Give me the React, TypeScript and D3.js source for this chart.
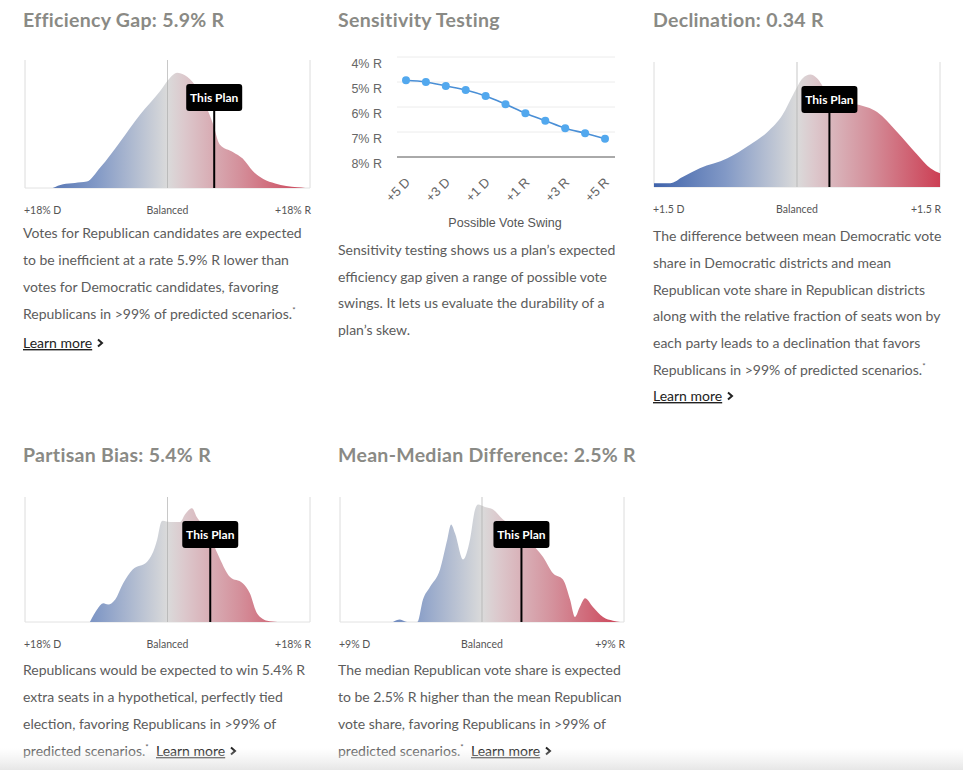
import React from 'react';
import * as d3 from 'd3';

// ---- efficiency gap distribution (% R, relative density)
const effGapX = [-14.5, -13.2, -11.7, -10.2, -8.5, -6.0, -3.5, -0.9, 0.3, 1.2, 2.2, 3.5, 4.7, 5.7, 6.6, 8.3, 9.5, 10.8, 12.1, 13.6, 16.4, 17.4];
const effGapY = [0, 0.03, 0.04, 0.05, 0.16, 0.36, 0.57, 0.76, 0.86, 0.90, 0.88, 0.80, 0.66, 0.51, 0.34, 0.28, 0.23, 0.13, 0.07, 0.035, 0.005, 0];

// ---- declination distribution
const declX = [-1.5, -1.33, -1.2, -1.02, -0.73, -0.49, -0.31, -0.15, -0.04, 0.06, 0.14, 0.21, 0.31, 0.45, 0.63, 0.84, 1.05, 1.26, 1.4, 1.5];
const declY = [0.03, 0.03, 0.08, 0.15, 0.23, 0.34, 0.44, 0.58, 0.74, 0.87, 0.90, 0.87, 0.76, 0.68, 0.66, 0.60, 0.44, 0.26, 0.15, 0.11];

// ---- partisan bias distribution
const biasX = [-9.8, -8.9, -8.1, -7.5, -6.6, -5.6, -4.4, -2.6, -1.3, -0.8, -0.6, 0.3, 1.6, 2.2, 3.1, 3.7, 5.0, 6.3, 7.9, 9.5, 10.4, 11.3, 12.6, 13.9];
const biasY = [0, 0.10, 0.15, 0.14, 0.18, 0.31, 0.42, 0.48, 0.66, 0.80, 0.81, 0.80, 0.80, 0.86, 0.91, 0.84, 0.74, 0.55, 0.36, 0.31, 0.23, 0.07, 0.01, 0];

// ---- mean-median distribution
const mmX = [-5.64, -5.2, -4.75, -4.1, -3.74, -3.3, -2.66, -2.2, -1.96, -1.71, -1.2, -0.76, -0.44, -0.25, 0.19, 0.7, 1.33, 2.09, 3.04, 3.87, 4.5, 5.13, 5.58, 5.89, 6.2, 6.53, 7.03, 7.67, 8.3, 8.75];
const mmY = [0, 0.02, 0, 0, 0.18, 0.28, 0.42, 0.66, 0.78, 0.71, 0.50, 0.66, 0.90, 0.94, 0.92, 0.90, 0.82, 0.76, 0.64, 0.52, 0.39, 0.34, 0.18, 0.04, 0.12, 0.19, 0.12, 0.04, 0.01, 0];

// ---- sensitivity testing
const swingX = [-5, -4, -3, -2, -1, 0, 1, 2, 3, 4, 5];
const swingGap = [4.93, 5.0, 5.16, 5.32, 5.56, 5.89, 6.25, 6.55, 6.85, 7.05, 7.27];
const swingTickValues = [-5, -3, -1, 1, 3, 5];
const swingTickLabels = ['+5 D', '+3 D', '+1 D', '+1 R', '+3 R', '+5 R'];
const gapTickValues = [4, 5, 6, 7, 8];
const gapTickLabels = ['4% R', '5% R', '6% R', '7% R', '8% R'];

const TITLE_FONT = 'Lato, "Open Sans", sans-serif';
const BODY_FONT = 'Lato, "Open Sans", sans-serif';
const TITLE_COLOR = '#8a8a85';
const BODY_COLOR = '#5c5c5c';

interface DensityProps {
    id: string;
    left: number;
    right: number;
    top: number;
    bottom: number;
    extent: number;
    xs: number[];
    ys: number[];
    plan: number;
    labels: string[];
}

const DensityChart: React.FC<DensityProps> = ({id, left, right, top, bottom, extent, xs, ys, plan, labels}) => {
    const x = d3.scaleLinear().domain([-extent, extent]).range([left, right]);
    const y = d3.scaleLinear().domain([0, 1]).range([bottom, top]);
    const pts = xs.map((v, i) => [v, ys[i]] as [number, number]);
    const area = d3.area<[number, number]>()
        .x(d => x(d[0]))
        .y0(bottom)
        .y1(d => y(d[1]))
        .curve(d3.curveMonotoneX);
    const px = x(plan);
    const boxTop = top + 24;
    return (
        <g>
            <defs>
                <linearGradient id={id} gradientUnits="userSpaceOnUse" x1={left} x2={right} y1={0} y2={0}>
                    <stop offset="0%" stopColor="#3f63ab"/>
                    <stop offset="25%" stopColor="#8299c6"/>
                    <stop offset="50%" stopColor="#dadada"/>
                    <stop offset="56%" stopColor="#dcc8cc"/>
                    <stop offset="75%" stopColor="#d4919c"/>
                    <stop offset="100%" stopColor="#cc3f54"/>
                </linearGradient>
            </defs>
            <line x1={left} x2={left} y1={top} y2={bottom} stroke="#dcdcdc"/>
            <line x1={right} x2={right} y1={top} y2={bottom} stroke="#dcdcdc"/>
            <line x1={left} x2={right} y1={bottom} y2={bottom} stroke="#e2e2e2"/>
            <path d={area(pts) || ''} fill={`url(#${id})`}/>
            <line x1={x(0)} x2={x(0)} y1={top} y2={bottom} stroke="#aaa" strokeWidth={0.8} opacity={0.8}/>
            <line x1={px} x2={px} y1={boxTop} y2={bottom} stroke="#000" strokeWidth={2}/>
            <rect x={px - 28} y={boxTop} width={56} height={27} rx={3} fill="#000"/>
            <text x={px} y={boxTop + 17.5} textAnchor="middle" fill="#fff" fontSize={12} fontWeight={700}
                  fontFamily={BODY_FONT}>This Plan</text>
            <text x={left - 1} y={bottom + 26} fontSize={10.5} fill="#555" fontFamily={BODY_FONT}>{labels[0]}</text>
            <text x={x(0)} y={bottom + 26} fontSize={10.5} fill="#555" textAnchor="middle" fontFamily={BODY_FONT}>{labels[1]}</text>
            <text x={right + 1} y={bottom + 26} fontSize={10.5} fill="#555" textAnchor="end" fontFamily={BODY_FONT}>{labels[2]}</text>
        </g>
    );
};

const SensitivityChart: React.FC = () => {
    const x = d3.scaleLinear().domain([-5, 5]).range([406, 605]);
    const y = d3.scaleLinear().domain([4, 8]).range([57, 157]);
    const line = d3.line<number>()
        .x((_, i) => x(swingX[i]))
        .y(d => y(d))
        .curve(d3.curveMonotoneX);
    const f = '"Liberation Sans", Arial, sans-serif';
    return (
        <g>
            {gapTickValues.map((v, i) => (
                <g key={v}>
                    <line x1={397} x2={615} y1={y(v)} y2={y(v)}
                          stroke={v === 8 ? '#555' : '#ececec'} strokeWidth={1}/>
                    <text x={382} y={y(v) + 11} textAnchor="end" fontSize={12.5} fill="#666" fontFamily={f}>
                        {gapTickLabels[i]}
                    </text>
                </g>
            ))}
            <path d={line(swingGap) || ''} fill="none" stroke="#4a8fd6" strokeWidth={1.6}/>
            {swingGap.map((v, i) => (
                <circle key={i} cx={x(swingX[i])} cy={y(v)} r={4} fill="#52a8ee"/>
            ))}
            {swingTickValues.map((v, i) => (
                <text key={v} transform={`translate(${x(v) + 5},${183}) rotate(-45)`} textAnchor="end"
                      fontSize={13} fill="#666" fontFamily={f}>{swingTickLabels[i]}</text>
            ))}
            <text x={505} y={227} textAnchor="middle" fontSize={12.5} fill="#555" fontFamily={f}>Possible Vote Swing</text>
        </g>
    );
};

const Chevron: React.FC<{x: number, y: number}> = ({x, y}) => (
    <path d={`M${x},${y - 8.5} L${x + 4},${y - 5} L${x},${y - 1.5}`} fill="none" stroke="#222" strokeWidth={2}/>
);

const Paragraph: React.FC<{x: number, y: number, lines: string[], step: number}> = ({x, y, lines, step}) => (
    <g>
        {lines.map((l, i) => {
            const star = l.endsWith('*');
            return (
                <text key={i} x={x} y={y + i * step} fontSize={14} fill={BODY_COLOR} fontFamily={BODY_FONT}>
                    {star ? l.slice(0, -1) : l}
                    {star ? <tspan fontSize={8} dy={-6}>*</tspan> : null}
                </text>
            );
        })}
    </g>
);

const LearnMore: React.FC<{x: number, y: number}> = ({x, y}) => (
    <g>
        <text x={x} y={y} fontSize={14} fill="#222" fontFamily={BODY_FONT} textDecoration="underline">Learn more </text>
        <Chevron x={x + 75} y={y}/>
    </g>
);

export default function App() {
    const titleProps = {fontSize: 19.5, fontWeight: 700, fill: TITLE_COLOR, fontFamily: TITLE_FONT, letterSpacing: 0.3};
    return (
        <svg width={963} height={770} style={{position: 'absolute', left: 0, top: 0, background: '#fff'}}>
            <defs>
                <linearGradient id="fade" x1="0" x2="0" y1="0" y2="1">
                    <stop offset="0%" stopColor="#eeeeee" stopOpacity={0}/>
                    <stop offset="100%" stopColor="#e6e6e6" stopOpacity={1}/>
                </linearGradient>
            </defs>

            {/* titles */}
            <text x={23} y={27} {...titleProps}>Efficiency Gap: 5.9% R</text>
            <text x={338} y={27} {...titleProps}>Sensitivity Testing</text>
            <text x={653} y={27} {...titleProps}>Declination: 0.34 R</text>
            <text x={23} y={462} {...titleProps}>Partisan Bias: 5.4% R</text>
            <text x={338} y={462} {...titleProps}>Mean-Median Difference: 2.5% R</text>

            <DensityChart id="gEG" left={25} right={310} top={60} bottom={188} extent={18}
                          xs={effGapX} ys={effGapY} plan={5.9} labels={['+18% D', 'Balanced', '+18% R']}/>
            <SensitivityChart/>
            <DensityChart id="gDC" left={654} right={940} top={62} bottom={187} extent={1.5}
                          xs={declX} ys={declY} plan={0.34} labels={['+1.5 D', 'Balanced', '+1.5 R']}/>
            <DensityChart id="gPB" left={25} right={310} top={497} bottom={622} extent={18}
                          xs={biasX} ys={biasY} plan={5.4} labels={['+18% D', 'Balanced', '+18% R']}/>
            <DensityChart id="gMM" left={340} right={624} top={497} bottom={622} extent={9}
                          xs={mmX} ys={mmY} plan={2.5} labels={['+9% D', 'Balanced', '+9% R']}/>

            <Paragraph x={23} y={238} step={27} lines={[
                'Votes for Republican candidates are expected',
                'to be inefficient at a rate 5.9% R lower than',
                'votes for Democratic candidates, favoring',
                'Republicans in >99% of predicted scenarios.*',
            ]}/>
            <LearnMore x={23} y={348}/>

            <Paragraph x={338} y={255} step={26.5} lines={[
                'Sensitivity testing shows us a plan\u2019s expected',
                'efficiency gap given a range of possible vote',
                'swings. It lets us evaluate the durability of a',
                'plan\u2019s skew.',
            ]}/>

            <Paragraph x={653} y={241} step={26.8} lines={[
                'The difference between mean Democratic vote',
                'share in Democratic districts and mean',
                'Republican vote share in Republican districts',
                'along with the relative fraction of seats won by',
                'each party leads to a declination that favors',
                'Republicans in >99% of predicted scenarios.*',
            ]}/>
            <LearnMore x={653} y={401}/>

            <Paragraph x={23} y={675} step={27} lines={[
                'Republicans would be expected to win 5.4% R',
                'extra seats in a hypothetical, perfectly tied',
                'election, favoring Republicans in >99% of',
                'predicted scenarios.*',
            ]}/>
            <LearnMore x={156} y={756}/>

            <Paragraph x={338} y={675} step={27} lines={[
                'The median Republican vote share is expected',
                'to be 2.5% R higher than the mean Republican',
                'vote share, favoring Republicans in >99% of',
                'predicted scenarios.*',
            ]}/>
            <LearnMore x={471} y={756}/>

            <rect x={0} y={748} width={963} height={22} fill="url(#fade)"/>
        </svg>
    );
}
